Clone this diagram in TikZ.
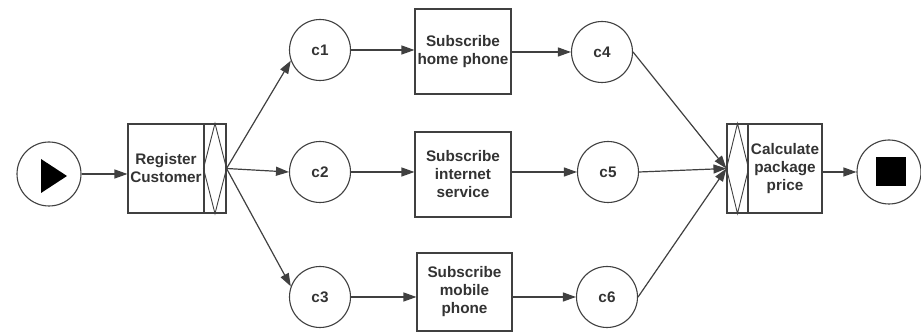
\documentclass[tikz,border=0pt]{standalone}
\usepackage{fontspec}
\setmainfont{Liberation Sans}
\usetikzlibrary{arrows.meta,calc}
\definecolor{ln}{HTML}{404040}
\definecolor{tx}{HTML}{333333}
\begin{document}
\begin{tikzpicture}[x=1pt,y=-1pt,
  lbl/.style={font=\fontsize{15.3}{18}\selectfont\bfseries, text=tx},
  place/.style={circle, draw=ln, line width=1.1pt, minimum size=61pt, inner sep=0pt, fill=white, lbl},
  task/.style={rectangle, draw=ln, line width=1.1pt, inner sep=0pt, align=center, fill=white, lbl},
  bar/.style={rectangle, draw=ln, line width=1.1pt, inner sep=0pt, fill=white},
  arr/.style={draw=ln, line width=1.2pt, -{Triangle[length=13pt,width=9pt]}}]
\useasboundingbox (0,0) rectangle (921,336);
% start
\node[place, minimum size=64pt] (start) at (49,174) {};
\fill[black] (41,159) -- (41,193) -- (67,176) -- cycle;
% register
\node[task, minimum width=76pt, minimum height=89pt] (reg) at (166,168.5) {Register\\Customer};
\node[bar, minimum width=22pt, minimum height=89pt] (regsplit) at (215,168.5) {};
\draw[ln, line width=0.9pt] (regsplit.north) -- (regsplit.east) -- (regsplit.south) -- (regsplit.west) -- cycle;
% conditions
\node[place] (c1) at (320,50) {c1};
\node[place] (c2) at (320,172) {c2};
\node[place] (c3) at (320,297) {c3};
% subscribe tasks
\node[task, minimum width=96pt, minimum height=85pt] (s1) at (463,51.5) {Subscribe\\home phone};
\node[task, minimum width=96pt, minimum height=85pt] (s2) at (463,174.5) {Subscribe\\internet\\service};
\node[task, minimum width=95pt, minimum height=78pt] (s3) at (464.5,292) {Subscribe\\mobile\\phone};
% conditions after
\node[place] (c4) at (602,52) {c4};
\node[place] (c5) at (608,172) {c5};
\node[place] (c6) at (607,297) {c6};
% join + calculate
\node[bar, minimum width=21pt, minimum height=89pt] (joinsplit) at (737.5,168.5) {};
\draw[ln, line width=0.9pt] (joinsplit.north) -- (joinsplit.east) -- (joinsplit.south) -- (joinsplit.west) -- cycle;
\node[task, minimum width=74pt, minimum height=89pt] (calc) at (785,168.5) {Calculate\\package\\price};
% end
\node[place, minimum size=64pt] (end) at (889,172) {};
\fill[black] (876,157) rectangle (906,186);
% connectors
\draw[arr] (start.east) -- (start.east -| reg.west);
\draw[arr] (regsplit.east) -- (c1.200);
\draw[arr] (regsplit.east) -- (c2.west);
\draw[arr] (regsplit.east) -- (c3.160);
\draw[arr] (c1.east) -- (c1.east -| s1.west);
\draw[arr] (c2.east) -- (c2.east -| s2.west);
\draw[arr] (c3.east) -- (c3.east -| s3.west);
\draw[arr] (c4.west -| s1.east) -- (c4.west);
\draw[arr] (c5.west -| s2.east) -- (c5.west);
\draw[arr] (c6.west -| s3.east) -- (c6.west);
\draw[arr] (c4.east) -- (joinsplit.west);
\draw[arr] (c5.east) -- (joinsplit.west);
\draw[arr] (c6.east) -- (joinsplit.west);
\draw[arr] (end.west -| calc.east) -- (end.west);
\end{tikzpicture}
\end{document}
